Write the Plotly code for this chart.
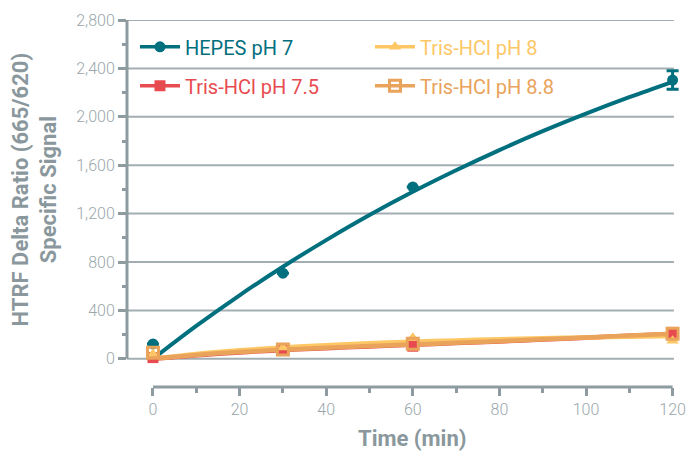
import plotly.graph_objects as go

# ---- data ----
time_points = [0, 30, 60, 120]
hepes_ph7 = [123, 708, 1420, 2304]
hepes_err = [0, 0, 0, 76]
tris_ph75 = [10, 70, 104, 218]
tris_ph8 = [40, 94, 175, 150]
tris_ph88 = [50, 77, 124, 207]

fit_time = [0, 10, 20, 30, 40, 50, 60, 70, 80, 90, 100, 110, 120]
fit_hepes = [0, 272, 525, 761, 981, 1188, 1380, 1558, 1725, 1881, 2026, 2162, 2289]
fit_tris75 = [0, 30, 53, 72, 88, 102, 116, 130, 144, 159, 175, 191, 206]
fit_tris8 = [0, 40, 70, 94, 113, 128, 141, 152, 162, 170, 177, 183, 188]
fit_tris88 = [0, 32, 56, 75, 91, 105, 118, 132, 146, 161, 176, 192, 208]

names = ["HEPES pH 7", "Tris-HCl pH 7.5", "Tris-HCl pH 8", "Tris-HCl pH 8.8"]
colors = ["#006f7e", "#e84b4f", "#fdc766", "#e9a35a"]
symbols = ["circle", "square", "triangle-up", "square-open"]
legends = ["legend", "legend", "legend2", "legend2"]

x_ticks = [0, 20, 40, 60, 80, 100, 120]
x_minor = [10, 30, 50, 70, 90, 110]
y_ticks = [0, 400, 800, 1200, 1600, 2000, 2400, 2800]
y_minor = [200, 600, 1000, 1400, 1800, 2200, 2600]

points = [hepes_ph7, tris_ph75, tris_ph8, tris_ph88]
fits = [fit_hepes, fit_tris75, fit_tris8, fit_tris88]
errs = [hepes_err, None, None, None]
line_w = [4, 4.5, 4.5, 4.5]

AX = "#8e9ca1"
GRID = "#a3aeb2"
TXT = "#9aa7ab"
TITLE = "#8a989d"

fig = go.Figure()

# fitted curves
for i in range(4):
    fig.add_trace(go.Scatter(x=fit_time, y=fits[i], mode="lines",
                             line=dict(color=colors[i], width=line_w[i], shape="spline"),
                             showlegend=False, hoverinfo="skip", cliponaxis=False))

# data points
for i in range(4):
    mk = dict(color=colors[i], symbol=symbols[i], size=11)
    if symbols[i] == "square-open":
        mk["line"] = dict(color=colors[i], width=3)
    ey = None
    if errs[i] is not None:
        ey = dict(type="data", array=errs[i], color=colors[i], thickness=3, width=6)
    fig.add_trace(go.Scatter(x=time_points, y=points[i], mode="markers", marker=mk,
                             error_y=ey, showlegend=False, cliponaxis=False))

# legend entries
for i in range(4):
    mk = dict(color=colors[i], symbol=symbols[i], size=11)
    if symbols[i] == "square-open":
        mk["line"] = dict(color=colors[i], width=3)
    fig.add_trace(go.Scatter(x=[None], y=[None], mode="lines+markers",
                             name=f"<span style='color:{colors[i]}'>{names[i]}</span>",
                             marker=mk, line=dict(color=colors[i], width=3.5),
                             legend=legends[i], legendgroup=names[i], showlegend=True))

leg_common = dict(bgcolor="rgba(0,0,0,0)", itemwidth=40, tracegroupgap=10,
                  xanchor="left", yanchor="top", orientation="v",
                  font=dict(size=20, family="Roboto"))

fig.update_layout(
    width=689, height=451, autosize=False,
    margin=dict(l=127, r=8, t=20, b=63.5, autoexpand=False),
    paper_bgcolor="white", plot_bgcolor="white",
    font=dict(family="Roboto", color=TXT),
    xaxis=dict(range=[-6, 121.94], tickvals=x_ticks, showgrid=False, zeroline=False,
               automargin=False,
               showline=False, ticks="outside", ticklen=8, tickwidth=3, tickcolor=AX,
               tickfont=dict(size=16, color=TXT, family="Roboto", weight=300),
               minor=dict(tickvals=x_minor, ticks="outside", ticklen=5, tickwidth=3, tickcolor=AX)),
    yaxis=dict(range=[-233, 2800], tickvals=y_ticks, tickformat=",d",
               automargin=False,
               showgrid=False, zeroline=False,
               showline=False, ticks="outside", ticklen=8, tickwidth=3, tickcolor=AX,
               tickfont=dict(size=16, color=TXT, family="Roboto", weight=300),
               minor=dict(tickvals=y_minor, ticks="outside", ticklen=4, tickwidth=3,
                          tickcolor=AX, showgrid=False)),
    legend=dict(x=0.0144, y=0.98, **leg_common),
    legend2=dict(x=0.4386, y=0.98, **leg_common),
    showlegend=True,
)

# horizontal gridlines ending at the right edge of the data area
for yv in y_ticks:
    fig.add_shape(type="line", xref="x", yref="y", x0=-6, x1=120.3, y0=yv, y1=yv,
                  line=dict(color=GRID, width=2), layer="below")

# offset axis lines
fig.add_shape(type="line", xref="paper", yref="y", x0=0, x1=0, y0=0, y1=2800,
              line=dict(color=AX, width=3), layer="above")
fig.add_shape(type="line", xref="x", yref="paper", x0=0, x1=120, y0=0, y1=0,
              line=dict(color=AX, width=3), layer="above")

# axis titles
fig.add_annotation(xref="x", yref="paper", x=60, y=0, yshift=-51, showarrow=False,
                   text="Time (min)", font=dict(size=22, family="Roboto", color=TITLE, weight="bold"),
                   xanchor="center", yanchor="middle")
fig.add_annotation(xref="paper", yref="y", x=0, y=1400, xshift=-92, showarrow=False,
                   text="HTRF Delta Ratio (665/620)<br>Specific Signal", textangle=-90,
                   font=dict(size=22, family="Roboto", color=TITLE, weight="bold"),
                   xanchor="center", yanchor="middle")

fig.write_html("out.html",
               config={"responsive": False, "displayModeBar": False},
               post_script="document.body.style.margin='0';document.body.style.overflow='hidden';")
